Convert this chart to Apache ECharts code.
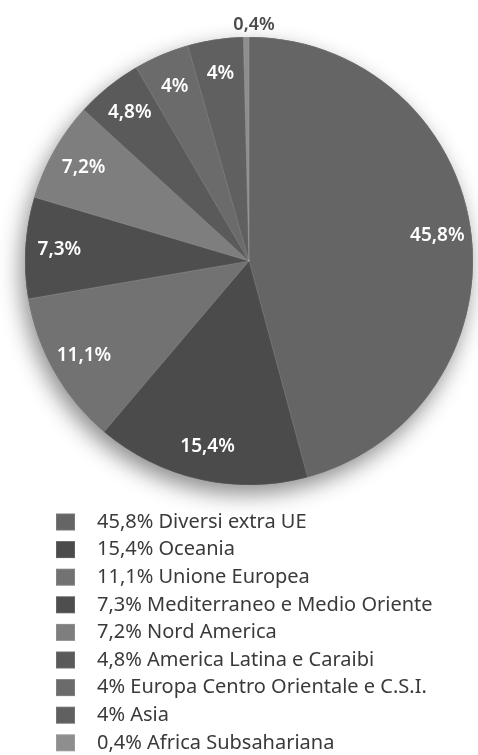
<!DOCTYPE html>
<html>
<head>
<meta charset="utf-8">
<script src="https://cdn.jsdelivr.net/npm/echarts@6/dist/echarts.min.js"></script>
<style>
  html, body { margin: 0; padding: 0; background: #ffffff; }
  #chart { width: 478px; height: 755px; }
</style>
</head>
<body>
<div id="chart"></div>
<script>
// Share of the total by area of origin (%)
const categories = [
  'Diversi extra UE',
  'Oceania',
  'Unione Europea',
  'Mediterraneo e Medio Oriente',
  'Nord America',
  'America Latina e Caraibi',
  'Europa Centro Orientale e C.S.I.',
  'Asia',
  'Africa Subsahariana'
];
const shares = [45.8, 15.4, 11.1, 7.3, 7.2, 4.8, 4, 4, 0.4];
const sliceColors = ['#656565', '#4b4b4b', '#727272', '#4e4e4e', '#7e7e7e', '#5a5a5a', '#6b6b6b', '#606060', '#8e8e8e'];

const fmt = v => String(v).replace('.', ',') + '%';
const shareByName = {};
categories.forEach((c, i) => { shareByName[c] = shares[i]; });

const CENTER = [249, 261];
const R = 224;
const FONT = '"Noto Sans", "Open Sans", sans-serif';

const chart = echarts.init(document.getElementById('chart'), null, { renderer: 'canvas' });

chart.setOption({
  animation: false,
  backgroundColor: '#ffffff',
  legend: {
    orient: 'vertical',
    left: 55,
    top: 512,
    height: 260,
    padding: 0,
    itemWidth: 19,
    itemHeight: 17,
    itemGap: 7.6,
    selectedMode: false,
    icon: 'rect',
    data: categories,
    formatter: name => fmt(shareByName[name]) + ' ' + name,
    textStyle: {
      fontFamily: FONT,
      fontSize: 20,
      color: '#3a3a3a',
      padding: [0, 0, 0, 17]
    }
  },
  series: [
    {
      // soft drop shadow under the whole disc
      type: 'pie',
      name: 'ombra',
      center: CENTER,
      radius: R,
      silent: true,
      z: 1,
      label: { show: false },
      labelLine: { show: false },
      data: [{ value: 1, name: '_disc' }],
      itemStyle: {
        color: '#5a5a5a',
        shadowBlur: 22,
        shadowOffsetX: -4,
        shadowOffsetY: 9,
        shadowColor: 'rgba(0,0,0,0.45)'
      }
    },
    {
      type: 'pie',
      name: 'quote',
      center: CENTER,
      radius: R,
      startAngle: 90,
      clockwise: true,
      z: 2,
      silent: true,
      label: { show: false },
      labelLine: { show: false },
      itemStyle: {
        borderColor: 'rgba(255,255,255,0.12)',
        borderWidth: 0.8
      },
      data: categories.map((c, i) => ({
        name: c,
        value: shares[i],
        itemStyle: { color: sliceColors[i] }
      }))
    },
    {
      // transparent ring that carries the percentage labels near the rim
      type: 'pie',
      name: 'etichette',
      center: CENTER,
      radius: [150, R],
      startAngle: 90,
      clockwise: true,
      z: 3,
      silent: true,
      itemStyle: { color: 'rgba(0,0,0,0)' },
      label: {
        show: true,
        position: 'inside',
        formatter: p => fmt(p.value),
        fontFamily: FONT,
        fontSize: 19,
        fontWeight: 600,
        color: '#ffffff'
      },
      labelLine: { show: false },
      labelLayout: p => (p.dataIndex === shares.length - 1 ? { align: 'center' } : {}),
      data: categories.map((c, i) => {
        const item = { name: c, value: shares[i] };
        if (shares[i] < 1) {
          item.label = {
            position: 'outside',
            color: '#4a4a4a',
            fontSize: 18,
            distanceToLabelLine: 0,
            padding: [0, 0, 0, 16]
          };
          item.labelLine = { show: false, length: 12, length2: 0 };
        }
        return item;
      })
    }
  ]
});
</script>
</body>
</html>
